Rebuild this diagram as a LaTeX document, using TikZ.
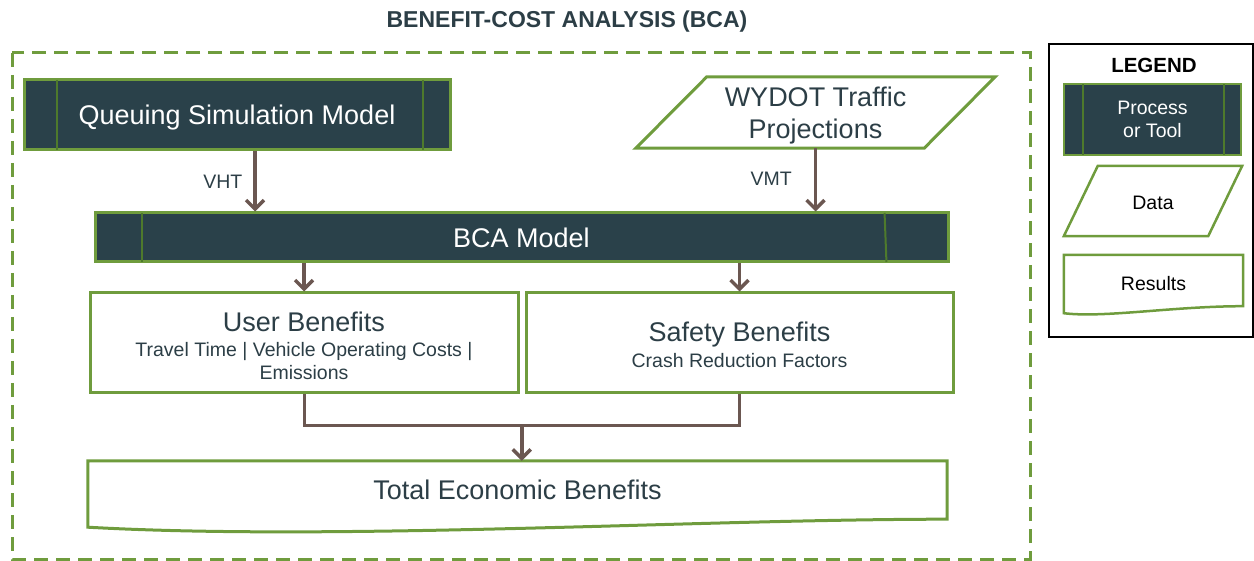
\documentclass[tikz,border=0pt]{standalone}
\usepackage{fontspec}
\setmainfont{Liberation Sans}
\usetikzlibrary{arrows.meta,calc}

\definecolor{procfill}{HTML}{2A414A}
\definecolor{grn}{HTML}{6F9C3D}
\definecolor{grndark}{HTML}{4E7A2C}
\definecolor{brn}{HTML}{6B5751}
\definecolor{txt}{HTML}{2C3E46}

\begin{document}
\begin{tikzpicture}[x=1pt,y=-1pt,
    big/.style={font=\fontsize{27}{32}\selectfont},
    small/.style={font=\fontsize{19.5}{23}\selectfont},
    proc/.style={draw=grn, line width=3pt, fill=procfill, text=white, inner sep=0pt, align=center},
    bar/.style={draw=grndark, line width=2pt, shorten >=1.5pt, shorten <=1.5pt},
    res/.style={draw=grn, line width=3pt, fill=white, text=txt, inner sep=0pt, align=center},
    shp/.style={inner sep=0pt, align=center},
    edge/.style={grn, line width=3pt, line join=miter},
    arr/.style={brn, line width=3.5pt, -{Straight Barb[length=9pt,width=18pt]}},
    conn/.style={brn, line width=3pt},
    lbl/.style={small, text=txt, inner sep=0pt}]
    \useasboundingbox (0,0) rectangle (1254,561);

    % titulo e moldura tracejada
    \node[font=\bfseries\fontsize{23}{26}\selectfont, text=txt] (title) at (567,22) {BENEFIT-COST ANALYSIS (BCA)};
    \draw[grn, line width=3pt, dash pattern=on 14pt off 8pt] (12,53) rectangle (1030,559);

    % entradas
    \node[proc, big, text depth=0pt, minimum width=426pt, minimum height=70pt] (qsm) at (237,115) {Queuing Simulation Model};
    \draw[bar] ([xshift=34pt]qsm.north west) -- ([xshift=34pt]qsm.south west);
    \draw[bar] ([xshift=-29pt]qsm.north east) -- ([xshift=-29pt]qsm.south east);

    \node[shp, big, text=txt, text depth=0pt, minimum width=359pt, minimum height=71pt] (wy) at (815.5,112.5) {WYDOT Traffic\\Projections};
    \draw[edge] ([xshift=71pt]wy.north west) -- (wy.north east) -- ([xshift=-71pt]wy.south east) -- (wy.south west) -- cycle;

    % modelo BCA
    \node[proc, big, minimum width=853pt, minimum height=49pt] (bca) at (521.5,237.5) {BCA Model};
    \draw[bar] ([xshift=48pt]bca.north west) -- ([xshift=48pt]bca.south west);
    \draw[bar] ([xshift=-65pt]bca.north east) -- ([xshift=-63pt]bca.south east);

    \draw[arr] ([xshift=18pt]qsm.south) -- ([xshift=18pt]qsm.south |- bca.north) node[midway, lbl, left=11pt] {VHT};
    \draw[arr] (wy.south) -- (wy.south |- bca.north) node[midway, lbl, left=22pt, yshift=1pt] {VMT};

    % beneficios
    \node[res, small, minimum width=428pt, minimum height=100pt] (ub) at (304,343)
        {\rule{0pt}{26pt}{\fontsize{27}{32}\selectfont User Benefits}\\[2pt]Travel Time | Vehicle Operating Costs |\\Emissions};
    \node[res, small, minimum width=427pt, minimum height=100pt] (sb) at (739.5,343)
        {\rule{0pt}{24pt}{\fontsize{27}{32}\selectfont Safety Benefits}\\[3pt]Crash Reduction Factors};

    \draw[arr] (bca.south -| ub.north) -- (ub.north);
    \draw[arr] (bca.south -| sb.north) -- (sb.north);

    % resultado final
    \node[shp, big, text=txt, minimum width=859pt, minimum height=66pt] (tot) at (517.5,494) {\rule[-8pt]{0pt}{1pt}Total Economic Benefits};
    \draw[edge] (tot.north west) -- (tot.north east) -- ([yshift=8pt]tot.south east)
        .. controls +(-250,0) and +(250,14) .. (tot.south west) -- cycle;

    \draw[conn] (ub.south) -- ++(0,31) -| (sb.south);
    \coordinate (j) at ($(ub.south)!.5!(sb.south) + (0,31)$);
    \draw[arr] (j) -- (j |- tot.north);

    % legenda
    \draw[black, line width=1.2pt] (1049,44) rectangle (1253,337);
    \node[font=\bfseries\fontsize{20.5}{24}\selectfont] (leg) at (1154,65) {LEGEND};

    \node[proc, small, line width=2.5pt, minimum width=177pt, minimum height=71pt] (lproc) at (1152.5,119.5) {Process\\or Tool};
    \draw[bar] ([xshift=20pt]lproc.north west) -- ([xshift=20pt]lproc.south west);
    \draw[bar] ([xshift=-18pt]lproc.north east) -- ([xshift=-18pt]lproc.south east);

    \node[shp, small, minimum width=178pt, minimum height=70pt] (ldata) at (1153,201) {\rule{0pt}{18pt}Data};
    \draw[edge, line width=2.5pt] ([xshift=34pt]ldata.north west) -- (ldata.north east) -- ([xshift=-34pt]ldata.south east) -- (ldata.south west) -- cycle;

    \node[shp, small, minimum width=179pt, minimum height=58pt] (lres) at (1153.5,284) {Results};
    \draw[edge, line width=2.5pt] (lres.north west) -- (lres.north east) -- ([yshift=7pt]lres.south east)
        .. controls +(-70,0) and +(40,5) .. (lres.south west) -- cycle;
\end{tikzpicture}
\end{document}
